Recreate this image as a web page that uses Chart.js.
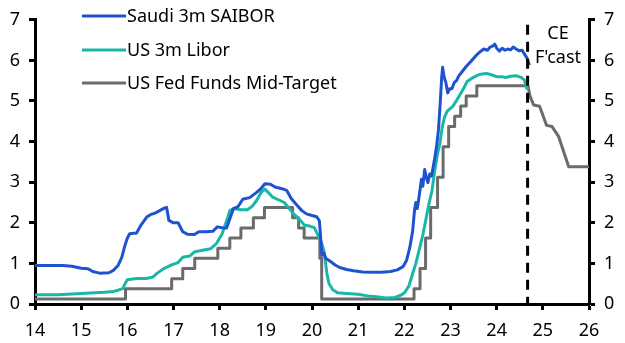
<!DOCTYPE html>
<html>
<head>
<meta charset="utf-8">
<script src="https://cdn.jsdelivr.net/npm/chart.js@4.4.1/dist/chart.umd.min.js"></script>
<style>
    body { margin: 0; background: #fff; }
    #rateChart { display: block; }
</style>
</head>
<body>
<canvas id="rateChart" width="625" height="343"></canvas>
<script>
const seriesNames = ["Saudi 3m SAIBOR", "US 3m Libor", "US Fed Funds Mid-Target"];
const xTicks = [14, 15, 16, 17, 18, 19, 20, 21, 22, 23, 24, 25, 26];
const yTicks = [0, 1, 2, 3, 4, 5, 6, 7];
const forecastStart = 24.67;

// Saudi 3m SAIBOR (years since 2000, %)
const saiborX = [14.0, 14.3, 14.6, 14.8, 15.0, 15.15, 15.25, 15.4, 15.6, 15.7, 15.8, 15.88, 15.95, 16.0, 16.05, 16.2, 16.3, 16.42, 16.5, 16.6, 16.7, 16.8, 16.85, 16.9, 17.0, 17.1, 17.2, 17.3, 17.45, 17.55, 17.7, 17.85, 17.95, 18.05, 18.15, 18.22, 18.3, 18.4, 18.5, 18.65, 18.8, 18.9, 18.98, 19.1, 19.2, 19.35, 19.45, 19.55, 19.66, 19.78, 19.88, 20.0, 20.1, 20.16, 20.19, 20.22, 20.26, 20.3, 20.4, 20.5, 20.6, 20.75, 20.9, 21.1, 21.3, 21.5, 21.7, 21.85, 21.97, 22.05, 22.12, 22.18, 22.22, 22.25, 22.28, 22.32, 22.37, 22.4, 22.44, 22.48, 22.51, 22.55, 22.59, 22.66, 22.7, 22.74, 22.78, 22.81, 22.83, 22.86, 22.9, 22.94, 22.98, 23.03, 23.08, 23.13, 23.18, 23.25, 23.34, 23.42, 23.5, 23.58, 23.65, 23.72, 23.8, 23.86, 23.92, 23.96, 24.0, 24.06, 24.12, 24.18, 24.24, 24.3, 24.36, 24.42, 24.48, 24.55, 24.6, 24.66, 24.71];
const saiborY = [0.95, 0.95, 0.95, 0.93, 0.88, 0.87, 0.80, 0.76, 0.77, 0.83, 0.95, 1.15, 1.45, 1.62, 1.73, 1.75, 1.95, 2.14, 2.2, 2.24, 2.3, 2.36, 2.38, 2.06, 2.0, 2.0, 1.78, 1.72, 1.71, 1.78, 1.78, 1.79, 1.9, 1.88, 1.87, 2.1, 2.35, 2.4, 2.58, 2.62, 2.75, 2.85, 2.96, 2.95, 2.88, 2.84, 2.8, 2.6, 2.45, 2.3, 2.22, 2.18, 2.15, 2.05, 1.6, 1.2, 1.25, 1.12, 1.05, 0.96, 0.9, 0.85, 0.82, 0.79, 0.78, 0.78, 0.8, 0.84, 0.92, 1.08, 1.4, 1.8, 2.3, 2.5, 2.35, 2.65, 3.07, 2.9, 3.31, 3.1, 2.99, 3.2, 3.15, 3.6, 3.9, 4.3, 5.0, 5.6, 5.83, 5.6, 5.45, 5.2, 5.3, 5.3, 5.45, 5.5, 5.62, 5.72, 5.85, 5.95, 6.05, 6.15, 6.22, 6.28, 6.25, 6.33, 6.36, 6.4, 6.3, 6.23, 6.3, 6.25, 6.28, 6.26, 6.33, 6.28, 6.24, 6.25, 6.16, 6.05, 5.88];

// US 3m Libor
const liborX = [14.0, 14.5, 14.9, 15.2, 15.5, 15.7, 15.8, 15.9, 15.95, 16.0, 16.2, 16.4, 16.55, 16.65, 16.8, 16.95, 17.1, 17.2, 17.35, 17.45, 17.6, 17.8, 17.93, 18.05, 18.12, 18.18, 18.22, 18.3, 18.45, 18.6, 18.7, 18.8, 18.9, 18.98, 19.05, 19.15, 19.25, 19.4, 19.52, 19.6, 19.7, 19.84, 19.95, 20.05, 20.12, 20.2, 20.26, 20.3, 20.33, 20.37, 20.45, 20.55, 20.75, 21.0, 21.2, 21.4, 21.6, 21.8, 21.95, 22.02, 22.1, 22.18, 22.25, 22.33, 22.4, 22.47, 22.53, 22.6, 22.66, 22.72, 22.77, 22.82, 22.87, 22.93, 22.98, 23.05, 23.13, 23.2, 23.28, 23.36, 23.45, 23.56, 23.65, 23.78, 23.9, 24.0, 24.1, 24.2, 24.3, 24.43, 24.53, 24.6, 24.64, 24.67];
const liborY = [0.23, 0.23, 0.25, 0.27, 0.29, 0.31, 0.34, 0.38, 0.5, 0.6, 0.63, 0.63, 0.66, 0.76, 0.88, 0.96, 1.02, 1.15, 1.18, 1.28, 1.32, 1.36, 1.49, 1.72, 1.95, 2.15, 2.3, 2.35, 2.32, 2.32, 2.4, 2.55, 2.75, 2.83, 2.75, 2.63, 2.58, 2.5, 2.33, 2.22, 2.12, 1.94, 1.92, 1.88, 1.72, 1.53, 1.3, 0.95, 0.7, 0.5, 0.35, 0.28, 0.26, 0.24, 0.2, 0.18, 0.15, 0.16, 0.23, 0.3, 0.45, 0.75, 1.0, 1.37, 1.7, 2.1, 2.45, 2.8, 3.3, 3.7, 3.95, 4.35, 4.6, 4.75, 4.8, 4.87, 5.01, 5.15, 5.3, 5.48, 5.55, 5.62, 5.66, 5.68, 5.64, 5.6, 5.6, 5.58, 5.61, 5.62, 5.58, 5.52, 5.35, 5.28];

// US Fed Funds mid-target, value from each date on
const fedX = [14.0, 15.96, 16.96, 17.2, 17.46, 17.96, 18.22, 18.46, 18.73, 18.97, 19.58, 19.71, 19.83, 20.17, 20.21, 22.21, 22.34, 22.46, 22.57, 22.72, 22.84, 22.96, 23.09, 23.22, 23.34, 23.57, 24.68];
const fedY = [0.125, 0.375, 0.625, 0.875, 1.125, 1.375, 1.625, 1.875, 2.125, 2.375, 2.125, 1.875, 1.625, 1.125, 0.125, 0.375, 0.875, 1.625, 2.375, 3.125, 3.875, 4.375, 4.625, 4.875, 5.125, 5.375, 5.375];

// CE forecast path for Fed Funds
const fcastX = [24.68, 24.72, 24.8, 24.93, 25.08, 25.2, 25.34, 25.56, 26.0];
const fcastY = [5.375, 5.125, 4.9, 4.87, 4.4, 4.37, 4.13, 3.38, 3.38];

const colors = ["#1f52d1", "#17b8a6", "#6b6b6b"];
const fontFamily = "'Noto Sans', sans-serif";

function toPoints(xs, ys) {
    return xs.map((x, i) => ({ x: x, y: ys[i] }));
}

const legendAndForecast = {
    id: "legendAndForecast",
    afterDatasetsDraw(chart) {
        const ctx = chart.ctx;
        const xScale = chart.scales.x;
        const area = chart.chartArea;

        // forecast marker
        const fx = xScale.getPixelForValue(forecastStart);
        ctx.save();
        ctx.strokeStyle = "#000";
        ctx.lineWidth = 3;
        ctx.setLineDash([10, 7]);
        ctx.beginPath();
        ctx.moveTo(fx, area.top + 5);
        ctx.lineTo(fx, area.bottom);
        ctx.stroke();
        ctx.setLineDash([]);

        ctx.fillStyle = "#000";
        ctx.font = "18px " + fontFamily;
        ctx.textAlign = "center";
        ctx.textBaseline = "middle";
        ctx.fillText("CE", 558, 34);
        ctx.fillText("F'cast", 558, 58);

        // legend, inside the plot
        const rows = [16, 50, 83];
        ctx.textAlign = "left";
        ctx.lineWidth = 3;
        seriesNames.forEach((name, i) => {
            ctx.strokeStyle = colors[i];
            ctx.beginPath();
            ctx.moveTo(82, rows[i]);
            ctx.lineTo(126, rows[i]);
            ctx.stroke();
            ctx.fillText(name, 127, rows[i] + 1);
        });
        ctx.restore();
    }
};

function yAxis(side, width) {
    return {
        type: "linear",
        position: side,
        min: 0,
        max: 7,
        afterBuildTicks: (scale) => { scale.ticks = yTicks.map(v => ({ value: v })); },
        afterFit: (scale) => { scale.width = width; },
        border: { display: true, color: "#000", width: 3 },
        grid: { drawOnChartArea: false, drawTicks: true, tickLength: 6, tickWidth: 3, tickColor: "#000" },
        ticks: { color: "#000", padding: 9, font: { family: fontFamily, size: 18 } }
    };
}

function createChart() {
    const myChart = new Chart("rateChart", {
        type: "line",
        data: {
            datasets: [
                { label: seriesNames[0], data: toPoints(saiborX, saiborY), borderColor: colors[0], borderWidth: 3, yAxisID: "y" },
                { label: seriesNames[1], data: toPoints(liborX, liborY), borderColor: colors[1], borderWidth: 3, yAxisID: "y" },
                { label: seriesNames[2], data: toPoints(fedX, fedY), borderColor: colors[2], borderWidth: 3, stepped: true, yAxisID: "y" },
                { label: "forecast", data: toPoints(fcastX, fcastY), borderColor: colors[2], borderWidth: 3, yAxisID: "y" }
            ]
        },
        options: {
            responsive: false,
            animation: false,
            devicePixelRatio: 1,
            layout: { padding: { top: 15, left: 0, right: 0, bottom: 0 } },
            elements: { point: { radius: 0 }, line: { tension: 0, borderCapStyle: "butt", borderJoinStyle: "round" } },
            plugins: { legend: { display: false }, tooltip: { enabled: false } },
            scales: {
                x: {
                    type: "linear",
                    min: 14,
                    max: 26,
                    afterBuildTicks: (scale) => { scale.ticks = xTicks.map(v => ({ value: v })); },
                    afterFit: (scale) => { scale.height = 39; },
                    border: { display: true, color: "#000", width: 3 },
                    grid: { drawOnChartArea: false, drawTicks: true, tickLength: 6, tickWidth: 3, tickColor: "#000" },
                    ticks: { color: "#000", padding: 10, maxRotation: 0, font: { family: fontFamily, size: 18 } }
                },
                y: yAxis("left", 35),
                y2: yAxis("right", 36)
            }
        },
        plugins: [legendAndForecast]
    });
    return myChart;
}

createChart();
</script>
</body>
</html>
